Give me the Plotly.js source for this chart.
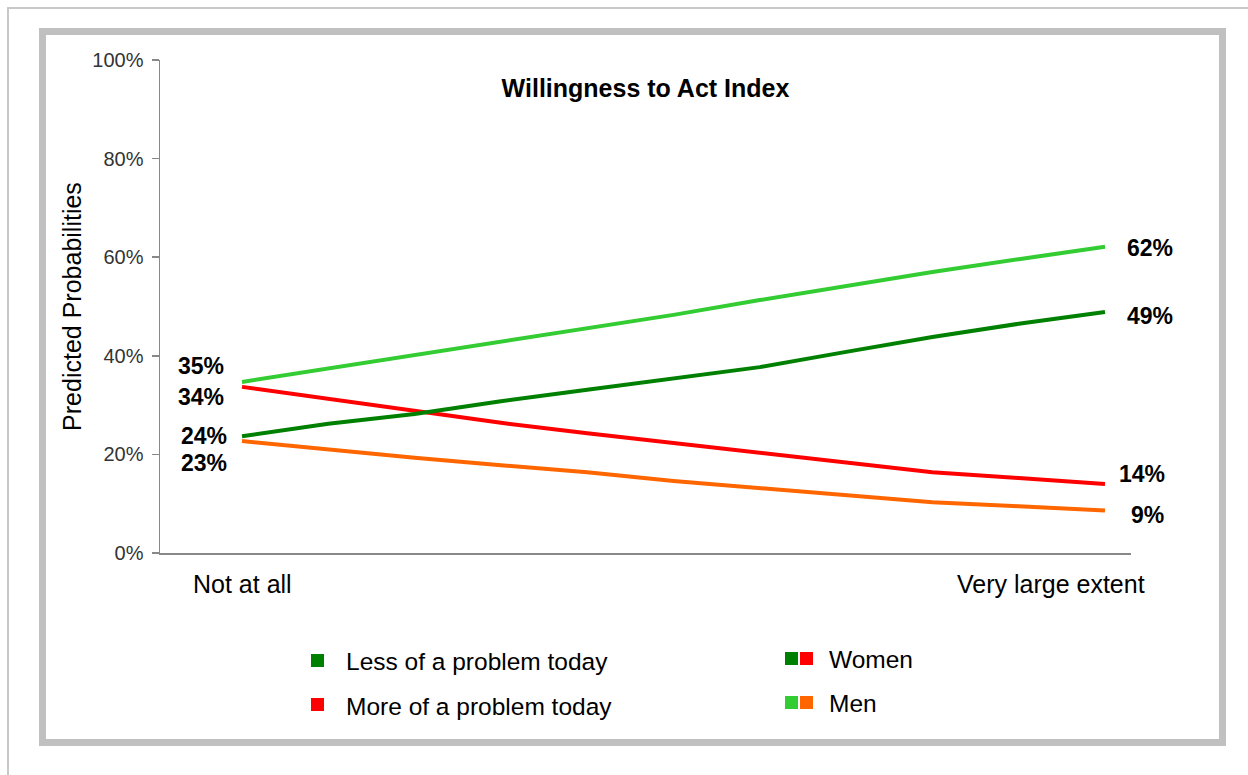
<!DOCTYPE html>
<html>
<head>
<meta charset="utf-8">
<script src="https://cdn.plot.ly/plotly-3.0.1.min.js"></script>
<style>html,body{margin:0;padding:0;background:#fff;}#chart{width:1248px;height:775px;}</style>
</head>
<body>
<div id="chart"></div>
<script>
// ---- data ----
const categories = [0, 1, 2, 3, 4, 5, 6, 7, 8, 9, 10];
const xTickLabels = ["Not at all", "Very large extent"];
const menLess   = [0.347, 0.374, 0.402, 0.430, 0.455, 0.483, 0.513, 0.542, 0.570, 0.596, 0.621];
const womenLess = [0.237, 0.262, 0.282, 0.308, 0.331, 0.353, 0.377, 0.408, 0.438, 0.465, 0.489];
const womenMore = [0.337, 0.312, 0.288, 0.264, 0.243, 0.223, 0.203, 0.185, 0.164, 0.152, 0.140];
const menMore   = [0.227, 0.209, 0.193, 0.178, 0.164, 0.146, 0.132, 0.118, 0.103, 0.095, 0.086];
const legendLabels = ["Less of a problem today", "More of a problem today", "Women", "Men"];
const chartTitle = "Willingness to Act Index";
const yTitle = "Predicted Probabilities";

// ---- layout helpers ----
const W = 1248, H = 775;
const M = {l: 160, r: 117, t: 60, b: 222};
const PW = W - M.l - M.r, PH = H - M.t - M.b;
const px = x => (x - M.l) / PW;
const py = y => (H - M.b - y) / PH;

const C = {dg: "#008000", red: "#FF0000", lg: "#33CC33", or: "#FF6600"};
const FONT = "Arial, 'Liberation Sans', sans-serif";

const traces = [
  {x: categories, y: womenMore, name: "Women - more", color: C.red},
  {x: categories, y: menMore, name: "Men - more", color: C.or},
  {x: categories, y: menLess, name: "Men - less", color: C.lg},
  {x: categories, y: womenLess, name: "Women - less", color: C.dg}
].map(t => ({x: t.x, y: t.y, name: t.name, type: "scatter", mode: "lines",
  line: {color: t.color, width: 4}, hoverinfo: "skip", showlegend: false}));

const pct = v => Math.round(v * 100) + "%";
const last = categories.length - 1;
const lbl = (xi, arr, xanchor, xshift, yshift) => ({
  x: categories[xi], y: arr[xi], xref: "x", yref: "y", text: "<b>" + pct(arr[xi]) + "</b>",
  showarrow: false, xanchor: xanchor, yanchor: "middle", xshift: xshift, yshift: yshift,
  font: {family: FONT, size: 23, color: "#000"}
});

const txt = (x, y, text, size, xanchor) => ({x: px(x), xref: "paper", y: py(y), yref: "paper", text: text,
  showarrow: false, xanchor: xanchor, yanchor: "middle", font: {family: FONT, size: size, color: "#000"}});

const annotations = [
  lbl(0, menLess, "right", -16, 16),
  lbl(0, womenMore, "right", -16, -10),
  lbl(0, womenLess, "right", -13, 0),
  lbl(0, menMore, "right", -13, -22),
  lbl(last, menLess, "left", 20, -1),
  lbl(last, womenLess, "left", 20, -4),
  lbl(last, womenMore, "left", 12, 10),
  lbl(last, menMore, "left", 24, -4),
  {x: categories[0], xref: "x", y: py(584), yref: "paper", text: xTickLabels[0], showarrow: false,
   xanchor: "center", yanchor: "middle", font: {family: FONT, size: 25, color: "#000"}},
  {x: categories[last], xref: "x", xshift: 42, y: py(584), yref: "paper", text: xTickLabels[1], showarrow: false,
   xanchor: "right", yanchor: "middle", font: {family: FONT, size: 25, color: "#000"}},
  txt(344, 661, legendLabels[0], 24.5, "left"),
  txt(344, 706, legendLabels[1], 24.5, "left"),
  txt(827, 659, legendLabels[2], 24.5, "left"),
  txt(827, 703, legendLabels[3], 24.5, "left")
];

const sq = (x0, y0, color) => ({type: "rect", xref: "paper", yref: "paper",
  x0: px(x0), x1: px(x0 + 13), y0: py(y0), y1: py(y0 + 13), fillcolor: color, line: {width: 0}});

const shapes = [
  {type: "rect", xref: "paper", yref: "paper", x0: px(8), x1: px(1300), y0: py(8), y1: py(800),
   line: {color: "#c8c8c8", width: 2}, layer: "below"},
  {type: "rect", xref: "paper", yref: "paper", x0: px(42.5), x1: px(1222.5), y0: py(31.5), y1: py(742.5),
   line: {color: "#c0c0c0", width: 7}, layer: "below"},
  sq(311, 654, C.dg),
  sq(311, 698, C.red),
  sq(785, 652, C.dg), sq(800, 652, C.red),
  sq(785, 696, C.lg), sq(800, 696, C.or)
];

const xmin = -(242 - M.l) / 86.3, xmax = 10 + (M.l + PW - 1105) / 86.3;

const layout = {
  width: W, height: H, margin: M,
  paper_bgcolor: "#fff", plot_bgcolor: "#fff",
  font: {family: FONT},
  title: {text: "<b>" + chartTitle + "</b>", font: {family: FONT, size: 25, color: "#000"},
          xref: "paper", x: 0.5, xanchor: "center", yref: "container", y: 1 - 88 / H, yanchor: "middle"},
  showlegend: false,
  xaxis: {range: [xmin, xmax], showline: true, linecolor: "#888", linewidth: 1.5,
          showticklabels: false, ticks: "", showgrid: false, zeroline: false, fixedrange: true},
  yaxis: {range: [0, 1], dtick: 0.2, tickformat: ".0%", showline: true, linecolor: "#888", linewidth: 1.5,
          ticks: "outside", ticklen: 7, tickcolor: "#888", tickwidth: 1.5, showgrid: false, zeroline: false,
          ticklabelstandoff: 4,
          tickfont: {family: FONT, size: 20, color: "#333"},
          title: {text: yTitle, font: {family: FONT, size: 25, color: "#000"}, standoff: 3}},
  annotations: annotations, shapes: shapes
};

Plotly.newPlot("chart", traces, layout, {staticPlot: true});
</script>
</body>
</html>
